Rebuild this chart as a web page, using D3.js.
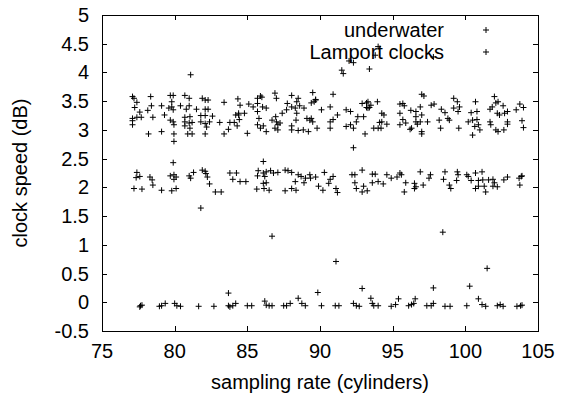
<!DOCTYPE html>
<html>
<head>
<meta charset="utf-8">
<script src="https://cdn.jsdelivr.net/npm/d3@7"></script>
<style>
  body { margin: 0; background: #fff; }
  svg text { font-family: "Liberation Sans", Arial, sans-serif; fill: #000; }
</style>
</head>
<body>
<div id="chart"></div>
<script>
// x ticks / y ticks
const xTicks = [75, 80, 85, 90, 95, 100, 105];
const yTicks = [-0.5, 0, 0.5, 1, 1.5, 2, 2.5, 3, 3.5, 4, 4.5, 5];
const seriesNames = ['underwater', 'Lamport clocks'];

// underwater: upper band (~3.0-3.6)
const underwaterUpper = [
  [77.1,3.58],[77.2,3.55],[77.4,3.48],[77.25,3.39],[77.6,3.31],[77.1,3.2],[77.1,3.16],[77.1,3.09],[77.4,3.22],[77.7,3.22],
  [78.2,2.93],[78.35,3.58],[78.4,3.42],[78.15,3.34],[78.5,3.22],[79.1,3.42],[79.3,3.26],[79.1,2.97],[79.7,3.6],[79.9,3.6],
  [79.8,3.49],[79.8,3.4],[79.6,3.38],[79.9,3.35],[79.7,3.17],[79.9,3.14],[79.95,3.09],[79.95,2.93],[79.95,2.8],[80.4,3.42],
  [80.7,3.6],[81.0,3.55],[81.0,3.42],[80.8,3.36],[80.7,3.22],[81.05,3.23],[80.7,3.14],[81.0,3.12],[81.2,3.13],[80.7,3.07],
  [81.05,3.03],[80.9,2.93],[81.2,2.93],[81.9,3.55],[82.1,3.52],[82.3,3.52],[81.5,3.36],[82.1,3.36],[82.3,3.36],[81.8,3.25],
  [82.1,3.25],[82.6,3.24],[81.8,3.14],[82.1,3.11],[82.4,3.14],[82.2,3.05],[82.1,2.93],[83.1,3.13],[83.4,3.48],[83.4,2.93],
  [83.7,3.01],[83.8,3.13],[84.1,3.13],[84.2,3.26],[84.4,3.26],[84.35,3.54],[84.5,3.43],[84.4,3.29],[84.8,3.29],[84.45,3.18],
  [84.3,3.07],[85.1,3.45],[85.0,2.94],
  [85.9,3.59],[86.0,3.57],[85.7,3.55],[86.9,3.64],[87.0,3.55],[88.05,3.6],[88.5,3.55],[88.4,3.49],[89.5,3.65],[89.7,3.53],
  [89.6,3.49],[90.9,3.62],[85.4,3.4],[85.7,3.46],[86.05,3.4],[86.3,3.38],[87.75,3.46],[88.05,3.4],[88.3,3.38],[88.6,3.42],
  [88.9,3.38],[89.4,3.47],[89.7,3.52],[90.1,3.35],[90.7,3.4],[85.7,3.32],[85.8,3.2],[85.7,3.09],[85.9,3.03],[86.1,3.07],
  [86.3,2.97],[86.7,3.17],[86.95,3.23],[87.0,3.14],[87.25,3.12],[87.1,3.09],[86.9,3.03],[87.1,3.0],[87.4,3.29],[87.7,3.35],
  [88.4,3.29],[88.35,3.17],[88.05,3.07],[88.05,3.0],[88.5,2.99],[88.85,3.0],[89.2,2.97],[89.1,3.2],[89.4,3.2],[89.5,3.14],
  [89.3,3.17],[89.8,3.03],[90.7,3.14],[90.9,3.18],[91.2,3.26],[90.7,3.03],[91.8,3.35],[92.1,3.32],[91.8,3.06],[92.1,3.09],
  [92.3,3.03],[92.5,3.14],[92.6,3.23],[93.0,3.23],[92.9,3.46],[93.2,3.47],[93.3,3.49],[93.5,3.43],[93.95,3.49],[93.2,3.39],
  [93.3,3.38],[93.4,3.39],[93.1,2.93],[92.3,2.69],[94.25,3.29],[94.4,3.26],[94.1,3.13],[94.25,3.14],[94.6,3.1],[93.7,3.03],
  [94.0,3.03],[94.2,3.03],
  [95.5,3.45],[95.7,3.46],[95.8,3.42],[95.5,3.29],[95.7,3.18],[95.5,3.09],[95.9,3.12],[96.2,3.01],[96.3,3.03],[96.25,3.34],
  [96.6,3.32],[96.6,3.23],[96.9,3.4],[97.0,3.62],[97.15,3.59],[96.6,3.14],[96.7,3.1],[96.9,3.14],[97.0,3.26],[97.4,3.14],
  [97.0,2.97],[97.0,2.93],[97.65,3.43],[97.85,3.45],[98.2,3.17],[98.35,3.36],[98.6,3.3],[98.8,3.2],[98.9,3.17],[98.3,3.03],
  [99.2,3.55],[99.45,3.49],[99.6,3.4],[99.5,3.32],[99.2,3.38],[99.55,3.03],[100.4,3.3],[100.7,3.49],[100.8,3.32],[100.2,3.14],
  [100.5,3.17],[100.8,3.18],[100.9,3.09],[101.0,3.0],[100.5,2.91],[100.65,3.06],[101.7,3.36],[101.85,3.4],[102.0,3.58],[102.1,3.47],
  [102.25,3.49],[102.2,3.29],[102.35,3.26],[102.6,3.42],[102.7,3.29],[102.9,3.32],[101.7,3.14],[101.75,3.09],[102.1,3.0],[102.25,2.97],
  [102.65,3.0],[102.9,3.14],[102.9,3.1],[103.5,3.35],[103.75,3.45],[104.0,3.39],[103.9,3.16],[104.0,3.04]
];

// underwater: middle band (~1.9-2.3)
const underwaterMiddle = [
  [79.9,2.43],[77.4,2.26],[77.35,2.17],[77.6,2.19],[77.2,1.98],[77.75,1.97],[78.3,2.18],[78.45,2.13],[78.5,2.04],[79.1,1.95],
  [79.7,2.2],[79.95,2.22],[80.1,2.18],[79.95,2.14],[79.8,1.94],[80.1,1.98],[81.0,2.2],[81.1,2.16],[81.3,2.26],[81.9,2.3],
  [82.1,2.28],[82.15,2.24],[82.25,2.18],[82.4,2.06],[82.8,1.92],[83.2,1.92],[83.8,2.25],[84.25,2.25],[84.0,2.14],[84.5,2.1],
  [84.9,2.1],
  [86.1,2.45],[85.75,2.29],[86.1,2.25],[86.3,2.27],[86.6,2.29],[86.8,2.25],[87.1,2.26],[85.7,2.2],[86.2,2.19],[86.1,2.07],
  [86.3,2.08],[85.65,1.97],[86.15,1.98],[86.5,1.95],[87.6,2.3],[87.8,2.29],[88.05,2.26],[88.5,2.22],[88.7,2.19],[89.0,2.16],
  [88.3,2.1],[88.9,2.08],[88.05,1.98],[88.35,1.95],[87.6,1.94],[89.3,2.22],[89.35,2.16],[89.7,2.18],[89.9,2.02],[90.2,1.95],
  [90.3,2.26],[90.7,2.14],[90.9,2.19],[90.6,2.07],[91.1,1.98],[91.2,1.91],[92.2,2.22],[92.4,2.22],[92.9,2.3],[92.4,2.08],
  [92.5,1.98],[93.0,2.02],[92.9,1.92],[93.25,1.94],[93.6,2.23],[93.8,2.23],[93.6,2.08],[94.0,2.1],[94.35,2.06],[94.6,2.22],
  [94.9,2.16],[95.3,2.18],
  [95.5,2.25],[95.6,2.22],[95.9,2.08],[95.8,1.92],[96.5,2.07],[96.6,2.01],[96.5,1.98],[97.1,2.04],[96.9,2.27],[97.5,2.16],
  [97.6,2.22],[98.5,2.14],[98.6,2.27],[98.9,2.04],[99.0,1.98],[99.45,2.27],[99.5,2.22],[99.4,2.12],[100.1,2.22],[100.2,2.19],
  [100.4,2.12],[100.7,2.25],[101.15,2.27],[100.9,2.12],[100.7,1.98],[100.9,2.02],[101.4,1.92],[101.3,2.02],[101.2,2.13],[101.6,2.13],
  [101.9,2.14],[102.0,2.08],[101.9,2.02],[102.2,2.01],[102.65,2.13],[102.9,2.18],[103.7,2.16],[103.85,2.19],[103.9,2.2],[103.75,2.04]
];

// Lamport clocks: band near zero
const lamportLower = [
  [77.65,-0.06],[77.6,-0.08],[77.75,-0.05],[78.95,-0.07],[79.1,-0.06],[79.35,-0.02],[80.0,-0.02],[80.15,-0.06],[80.4,-0.07],[81.65,-0.07],
  [82.7,-0.07],[83.7,-0.06],[84.0,-0.06],[84.2,-0.02],[83.8,-0.08],[85.0,-0.06],[85.3,-0.06],[86.2,0.02],[86.3,-0.05],[86.5,-0.06],
  [86.7,-0.06],[87.5,-0.06],[87.7,-0.06],[87.95,-0.02],[88.5,0.07],[88.75,-0.02],[88.99,-0.06],[90.1,-0.06],[91.05,-0.06],[91.3,-0.06],
  [92.3,-0.02],[92.5,-0.06],[92.7,-0.07],[93.5,0.07],[93.7,-0.06],[94.0,-0.06],[93.6,-0.02],[94.9,-0.07],[95.2,-0.04],[95.4,0.06],
  [96.1,-0.06],[96.3,-0.04],[96.55,0.06],[96.45,-0.02],[97.35,-0.06],[97.65,-0.06],[97.8,-0.02],[98.6,-0.07],[98.95,-0.07],[100.1,-0.06],
  [100.9,0.06],[101.15,-0.04],[101.4,-0.07],[102.2,-0.06],[102.4,-0.04],[102.6,-0.07],[103.55,-0.07],[103.8,-0.06],[103.9,-0.05]
];

// Lamport clocks: scattered points
const lamportOutliers = [
  [81.1,3.96],[91.5,4.04],[91.6,3.98],[92.0,4.2],[92.3,4.17],[93.4,4.06],[94.0,4.45],[93.8,4.3],[97.8,4.27],
  [81.8,1.64],[86.7,1.15],[83.7,0.16],[89.85,0.17],[91.1,0.71],[92.9,0.24],[97.8,0.25],[98.45,1.22],[100.3,0.28],[101.5,0.59]
];

const W = 561, H = 394;
const margin = { top: 15, right: 23, bottom: 63, left: 102 };
const w = W - margin.left - margin.right;
const h = H - margin.top - margin.bottom;

const svg = d3.select('#chart').append('svg')
  .attr('width', W).attr('height', H);

const g = svg.append('g')
  .attr('transform', `translate(${margin.left},${margin.top})`);

const x = d3.scaleLinear().domain([75, 105]).range([0, w]);
const y = d3.scaleLinear().domain([-0.5, 5]).range([h, 0]);

const tickLen = 5;

// ticks (inward, mirrored on all sides)
const ticks = g.append('g').attr('stroke', '#000').attr('stroke-width', 1);
xTicks.forEach(t => {
  const px = Math.round(x(t)) + 0.5;
  ticks.append('line').attr('x1', px).attr('x2', px).attr('y1', h).attr('y2', h - tickLen);
  ticks.append('line').attr('x1', px).attr('x2', px).attr('y1', 0).attr('y2', tickLen);
});
yTicks.forEach(t => {
  const py = Math.round(y(t)) + 0.5;
  ticks.append('line').attr('x1', 0).attr('x2', tickLen).attr('y1', py).attr('y2', py);
  ticks.append('line').attr('x1', w).attr('x2', w - tickLen).attr('y1', py).attr('y2', py);
});

// tick labels
g.append('g').selectAll('text').data(xTicks).join('text')
  .attr('x', d => x(d)).attr('y', h + 27)
  .attr('text-anchor', 'middle').attr('font-size', 20)
  .text(d => d);
g.append('g').selectAll('text').data(yTicks).join('text')
  .attr('x', -13).attr('y', d => y(d) + 7)
  .attr('text-anchor', 'end').attr('font-size', 20)
  .text(d => d);

// frame
g.append('rect')
  .attr('x', 0.5).attr('y', 0.5).attr('width', w).attr('height', h)
  .attr('fill', 'none').attr('stroke', '#000').attr('stroke-width', 1);

// axis titles
svg.append('text')
  .attr('x', margin.left + w / 2).attr('y', 389)
  .attr('text-anchor', 'middle').attr('font-size', 20)
  .text('sampling rate (cylinders)');
svg.append('text')
  .attr('transform', `translate(27,${margin.top + h / 2}) rotate(-90)`)
  .attr('text-anchor', 'middle').attr('font-size', 20)
  .text('clock speed (dB)');

// plus-shaped point
const plus = (sel, s) => sel.append('path')
  .attr('d', `M${-s},0H${s}M0,${-s}V${s}`)
  .attr('stroke', '#000').attr('stroke-width', 1).attr('fill', 'none');

const series = [
  { name: seriesNames[0], pts: underwaterUpper.concat(underwaterMiddle) },
  { name: seriesNames[1], pts: lamportLower.concat(lamportOutliers) }
];

series.forEach(s => {
  const layer = g.append('g');
  s.pts.forEach(p => {
    const pt = layer.append('g').attr('transform', `translate(${x(p[0])},${y(p[1])})`);
    plus(pt, 3);
  });
});

// key
const key = g.append('g');
series.forEach((s, i) => {
  const ky = 15 + i * 22;
  key.append('text')
    .attr('x', 342).attr('y', ky + 7)
    .attr('text-anchor', 'end').attr('font-size', 20)
    .text(s.name);
  plus(key.append('g').attr('transform', `translate(384,${ky})`), 3);
});
</script>
</body>
</html>
